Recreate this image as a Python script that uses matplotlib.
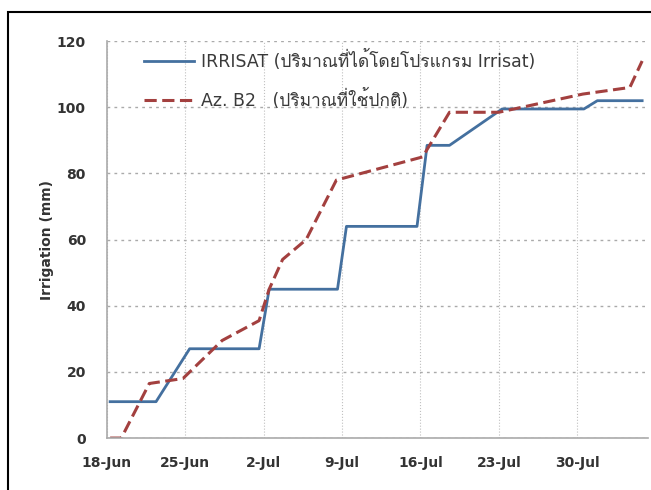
import matplotlib
matplotlib.use("Agg")
import matplotlib.pyplot as plt
from matplotlib import font_manager
from matplotlib.ft2font import FT2Font

# days after 18-Jun, cumulative irrigation (mm)
irrisat_day = [0.3, 4.4, 7.4, 13.6, 14.5, 20.6, 21.4, 27.7, 28.6, 30.6, 35.3, 42.6, 43.8, 47.8]
irrisat_mm = [11, 11, 27, 27, 45, 45, 64, 64, 88.5, 88.5, 99.5, 99.5, 102, 102]

azb2_day = [0.3, 1.3, 3.8, 6.8, 10.3, 13.6, 14.5, 15.7, 17.8, 20.5, 28.2, 30.6, 35.0, 42.5, 46.7, 47.8]
azb2_mm = [0, 0, 16.5, 18, 29.5, 35.5, 45, 54, 60, 78, 85, 98.5, 98.5, 104, 106, 114]

tick_days = [0, 7, 14, 21, 28, 35, 42]
tick_labels = ["18-Jun", "25-Jun", "2-Jul", "9-Jul", "16-Jul", "23-Jul", "30-Jul"]

label_irrisat = "IRRISAT (ปริมาณที่ได้โดยโปรแกรม Irrisat)"
label_azb2 = "Az. B2   (ปริมาณที่ใช้ปกติ)"

# find an installed font that has Thai glyphs
thai_font = None
for f in font_manager.fontManager.ttflist:
    try:
        ft = FT2Font(f.fname)
        if ft.get_char_index(ord("ป")) != 0:
            thai_font = f.name
            break
    except Exception:
        pass
families = ["DejaVu Sans"] + ([thai_font] if thai_font else [])
plt.rcParams["font.family"] = families

fig = plt.figure(figsize=(6.51, 4.9), dpi=100)
ax = fig.add_axes([0.164, 0.106, 0.831, 0.81])

ax.plot(irrisat_day, irrisat_mm, color="#44709f", lw=2.0, label=label_irrisat)
ax.plot(azb2_day, azb2_mm, color="#a3403f", lw=2.2, ls=(0, (4, 1.8)), label=label_azb2)

ax.set_xlim(0, 48.3)
ax.set_ylim(0, 120)
ax.set_yticks(range(0, 121, 20))
ax.set_xticks(tick_days)
ax.set_xticklabels(tick_labels)
ax.tick_params(length=0, labelsize=10, colors="#333333")
ax.tick_params(axis="y", pad=15)
ax.tick_params(axis="x", pad=13)
for lbl in ax.get_xticklabels() + ax.get_yticklabels():
    lbl.set_fontweight("bold")

ax.grid(axis="y", color="#aaaaaa", ls=(0, (2, 3)), lw=1.0)
ax.grid(axis="x", color="#c0c0c0", ls=":", lw=0.8)
for s in ["top", "right"]:
    ax.spines[s].set_visible(False)
for s in ["left", "bottom"]:
    ax.spines[s].set_color("#aaaaaa")
    ax.spines[s].set_linewidth(1.2)

ax.set_ylabel("Irrigation (mm)", fontsize=10, fontweight="bold", color="#333333", labelpad=2)

ax.legend(loc="upper left", bbox_to_anchor=(0.04, 1.017), frameon=False,
          fontsize=12.5, handlelength=2.9, labelspacing=1.05, handletextpad=0.4,
          labelcolor="#3a3a3a")

fig.patches.append(plt.Rectangle((8 / 651, -0.1), 1.2, 1 - 12 / 490 + 0.1, transform=fig.transFigure,
                                 fill=False, edgecolor="black", lw=1.5))

fig.savefig("out.png", dpi=100)
